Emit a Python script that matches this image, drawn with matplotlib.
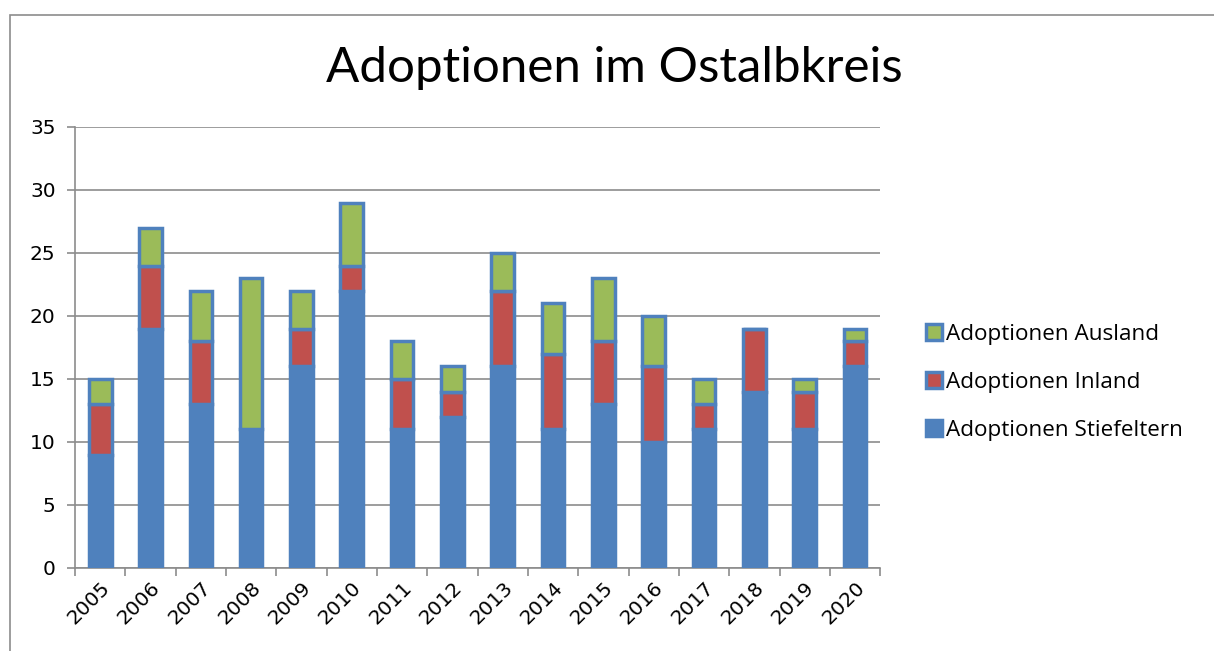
import numpy as np
import matplotlib.pyplot as plt
from matplotlib.patches import Rectangle

# data
years = [str(y) for y in range(2005, 2021)]
stiefeltern = [9, 19, 13, 11, 16, 22, 11, 12, 16, 11, 13, 10, 11, 14, 11, 16]
inland = [4, 5, 5, 0, 3, 2, 4, 2, 6, 6, 5, 6, 2, 5, 3, 2]
ausland = [2, 3, 4, 12, 3, 5, 3, 2, 3, 4, 5, 4, 2, 0, 1, 1]

BLUE = "#4F81BD"
RED = "#C0504D"
GREEN = "#9BBB59"

fig = plt.figure(figsize=(12.14, 6.51), dpi=100)
ax = fig.add_axes([0.0618, 0.1275, 0.6632, 0.6775])

x = np.arange(len(years))
w = 0.45
s = np.array(stiefeltern); i = np.array(inland); a = np.array(ausland)
ax.bar(x, s, w, color=BLUE, edgecolor=BLUE, lw=2.5, label="Adoptionen Stiefeltern", zorder=3)
ax.bar(x, i, w, bottom=s, color=RED, edgecolor=BLUE, lw=2.5, label="Adoptionen Inland", zorder=3)
ax.bar(x, a, w, bottom=s + i, color=GREEN, edgecolor=BLUE, lw=2.5, label="Adoptionen Ausland", zorder=3)

ax.set_xlim(-0.5, len(years) - 0.5)
ax.set_ylim(0, 35)
ax.set_yticks(range(0, 36, 5))
ax.yaxis.grid(True, color="#8c8c8c", lw=1.2)
ax.set_axisbelow(True)
for sp in ["top", "right"]:
    ax.spines[sp].set_visible(False)
for sp in ["left", "bottom"]:
    ax.spines[sp].set_color("#8c8c8c")
    ax.spines[sp].set_linewidth(1.2)

ax.set_xticks(x)
ax.set_xticklabels(years, rotation=45, ha="right", rotation_mode="anchor", fontsize=14.5)
ax.set_xticks(np.arange(-0.5, len(years)), minor=True)
ax.tick_params(axis="x", which="major", length=0, pad=7)
ax.tick_params(axis="x", which="minor", length=6, color="#8c8c8c", width=1.2)
ax.tick_params(axis="y", length=6, color="#8c8c8c", width=1.2, labelsize=14.5, pad=8)

fig.text(614 / 1214, 1 - 68 / 651, "Adoptionen im Ostalbkreis", fontsize=35.5,
         family="Lato", ha="center", va="center")

h, l = ax.get_legend_handles_labels()
leg = fig.legend(h[::-1], l[::-1], loc="center left", bbox_to_anchor=(0.746, 0.413),
                 frameon=False, fontsize=16.2, handlelength=0.7, handleheight=0.7,
                 handletextpad=0.2, labelspacing=1.2)
for t in leg.get_texts():
    t.set_family("Open Sans")

# chart outer border
fig.patches.append(Rectangle((10 / 1214, -0.1), 1.2, 1.1 - 15 / 651, transform=fig.transFigure,
                             fill=False, edgecolor="#8c8c8c", lw=1.2))

fig.savefig("out.png", dpi=100)
